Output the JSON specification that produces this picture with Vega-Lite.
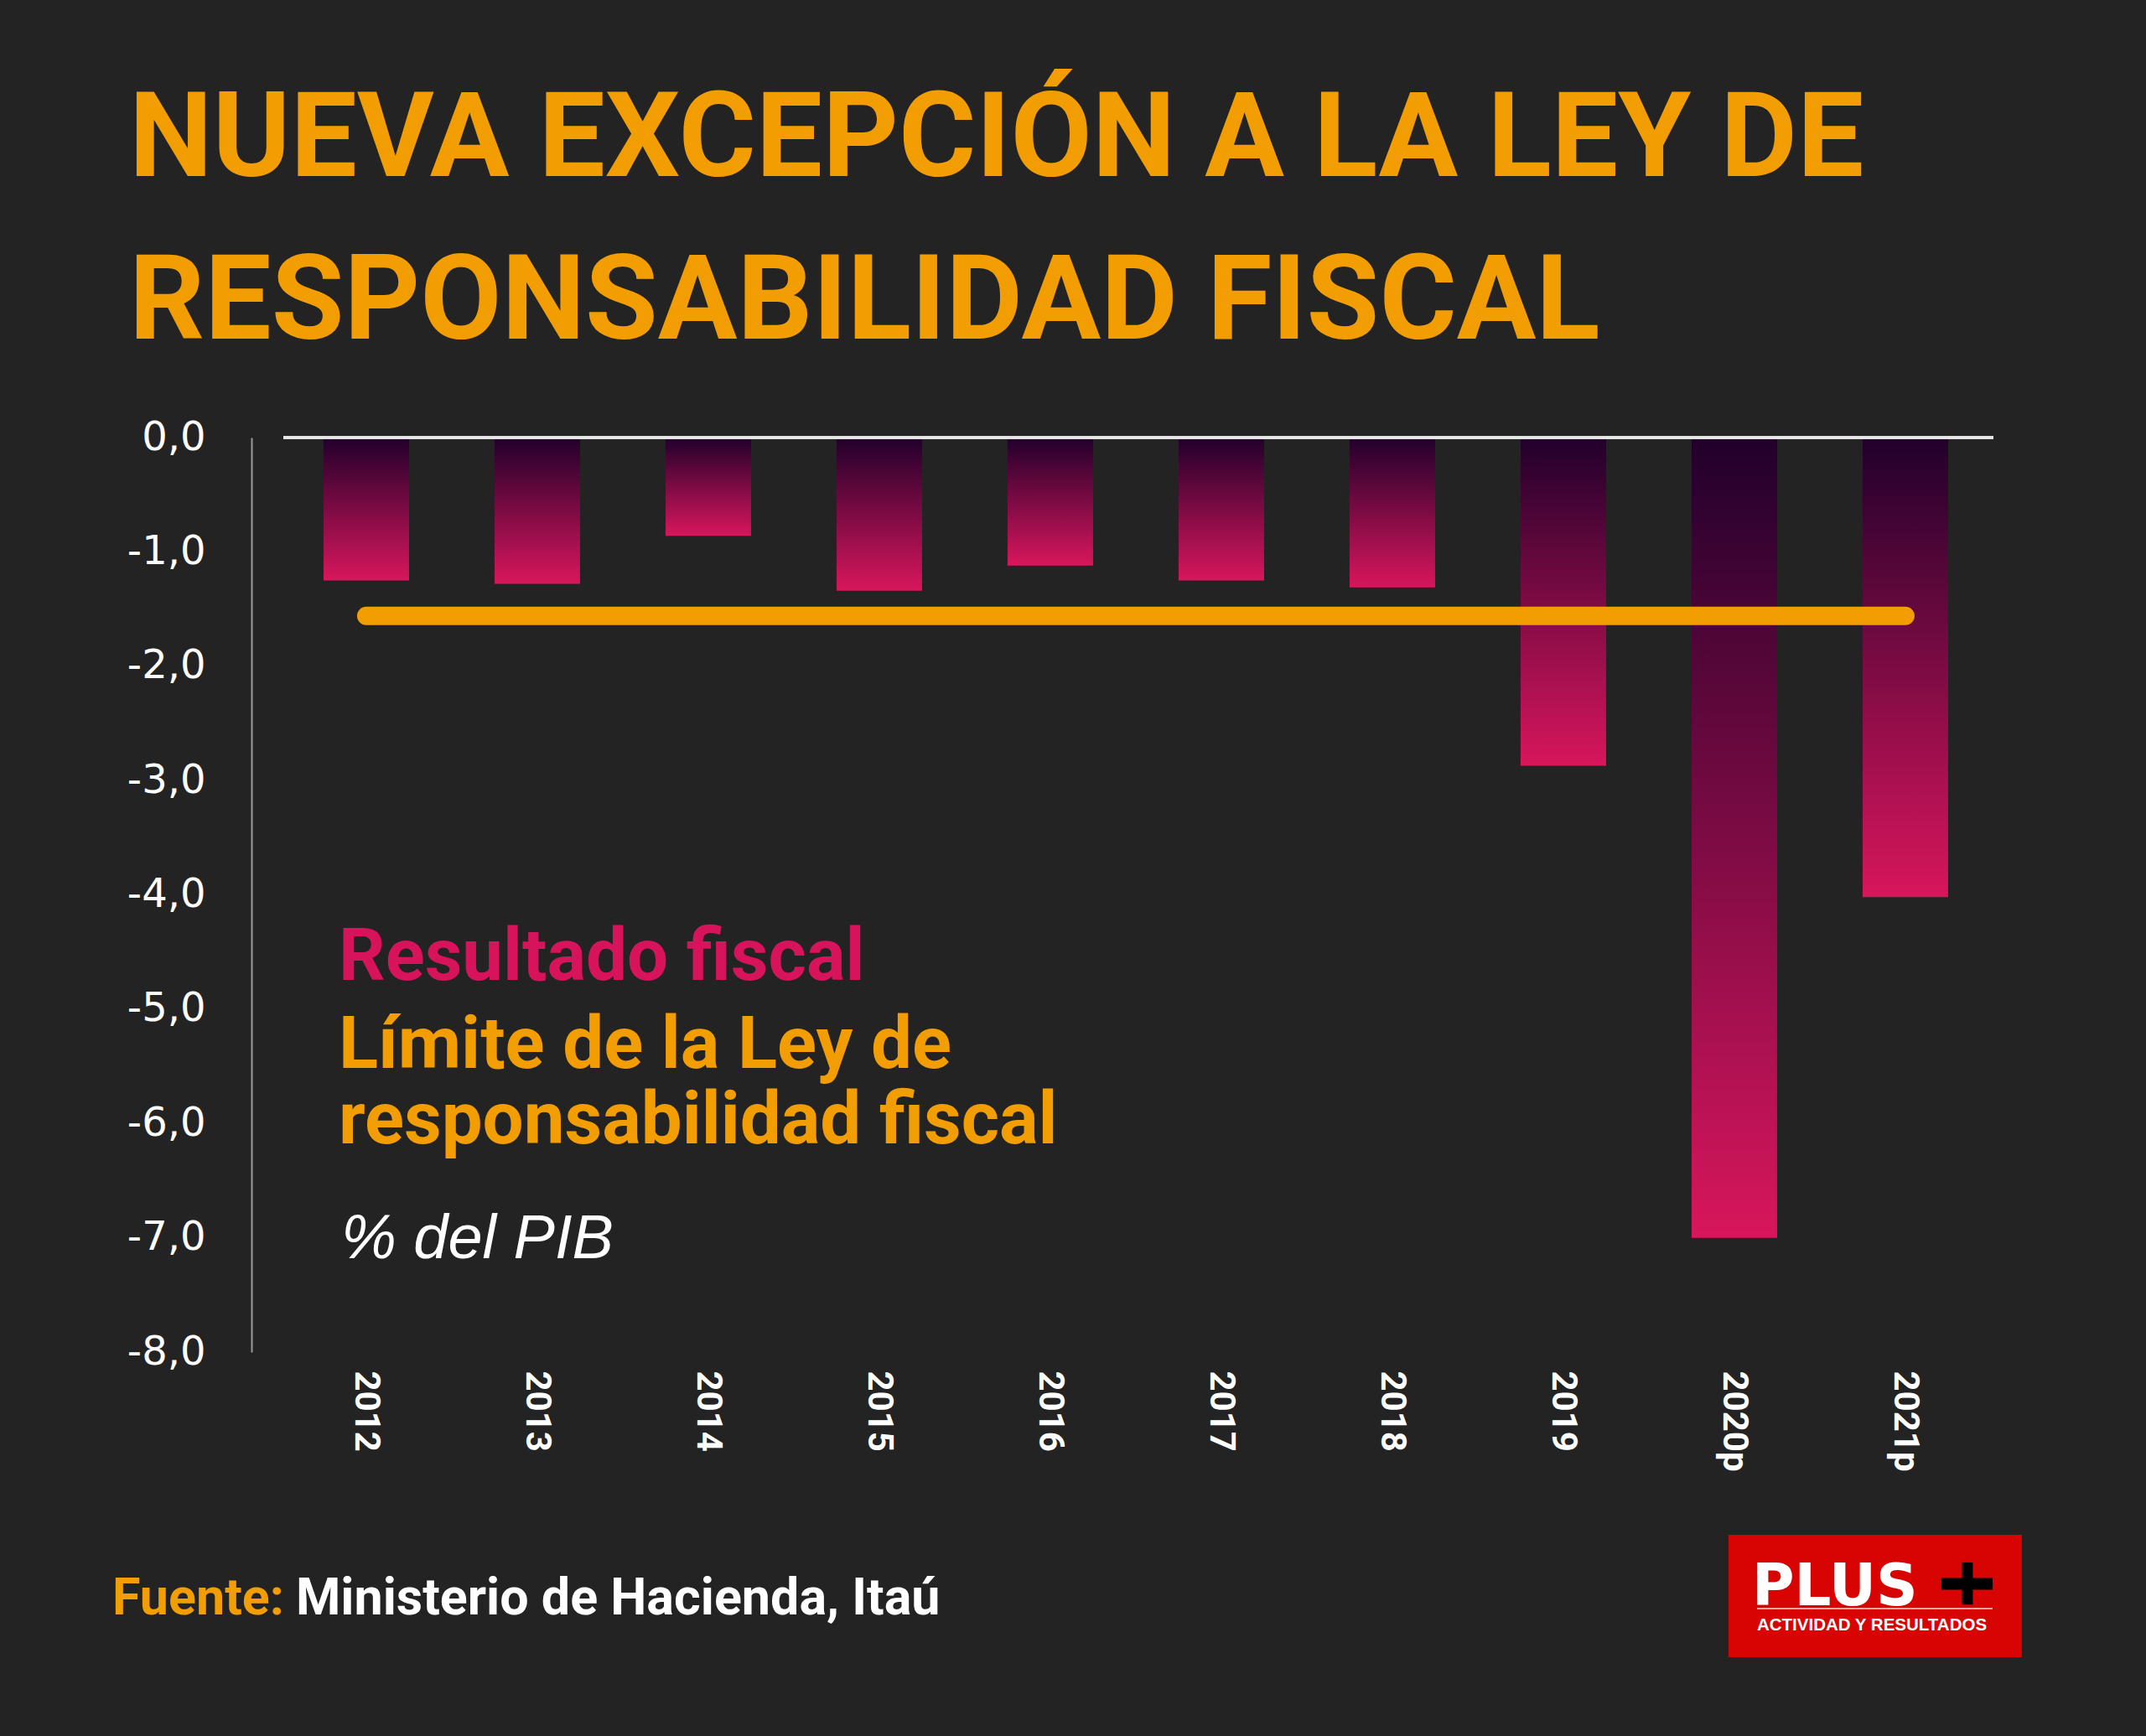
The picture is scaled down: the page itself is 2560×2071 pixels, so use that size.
{
  "$schema": "https://vega.github.io/schema/vega-lite/v6.json",
  "autosize": "none",
  "width": 2040,
  "height": 1091,
  "padding": {"left": 338, "top": 522, "right": 182, "bottom": 458},
  "background": "#232323",
  "title": {
    "text": ["NUEVA EXCEPCIÓN A LA LEY DE", "RESPONSABILIDAD FISCAL"],
    "anchor": "start",
    "frame": "group",
    "orient": "top",
    "font": "Roboto",
    "fontWeight": "bold",
    "fontSize": 141,
    "lineHeight": 194,
    "color": "#f29e02",
    "dx": -184,
    "offset": 64
  },
  "datasets": {
    "fiscal": [
      {"year": "2012", "value": -1.25},
      {"year": "2013", "value": -1.28},
      {"year": "2014", "value": -0.86},
      {"year": "2015", "value": -1.34},
      {"year": "2016", "value": -1.12},
      {"year": "2017", "value": -1.25},
      {"year": "2018", "value": -1.31},
      {"year": "2019", "value": -2.87},
      {"year": "2020p", "value": -7.0},
      {"year": "2021p", "value": -4.02}
    ],
    "limite": [
      {"desde": "2012", "hasta": "2021p", "limite": -1.56}
    ],
    "textos": [
      {"id": "resultado", "texto": "Resultado fiscal"},
      {"id": "limite1", "texto": "Límite de la Ley de"},
      {"id": "limite2", "texto": "responsabilidad fiscal"},
      {"id": "unidad", "texto": "% del PIB"},
      {"id": "fuente1", "texto": "Fuente:"},
      {"id": "fuente2", "texto": "Ministerio de Hacienda, Itaú"},
      {"id": "marca", "texto": "PLUS"},
      {"id": "lema", "texto": "ACTIVIDAD Y RESULTADOS"}
    ]
  },
  "config": {
    "view": {"stroke": null},
    "axis": {"grid": false, "ticks": false}
  },
  "layer": [
    {
      "data": {"name": "fiscal"},
      "mark": {
        "type": "bar",
        "color": {
          "gradient": "linear",
          "x1": 0, "y1": 0, "x2": 0, "y2": 1,
          "stops": [
            {"offset": 0, "color": "#21002b"},
            {"offset": 1, "color": "#d8165c"}
          ]
        }
      },
      "encoding": {
        "x": {
          "field": "year",
          "type": "nominal",
          "sort": null,
          "scale": {"paddingInner": 0.5, "paddingOuter": 0.25, "align": 0.47},
          "axis": {
            "title": null,
            "domain": false,
            "labelAngle": 90,
            "labelFont": "Roboto",
            "labelFontWeight": "bold",
            "labelFontSize": 42,
            "labelColor": "#ffffff",
            "labelPadding": 22
          }
        },
        "y": {
          "field": "value",
          "type": "quantitative",
          "scale": {"domain": [-8, 0], "nice": false, "zero": false},
          "axis": {
            "title": null,
            "values": [0, -1, -2, -3, -4, -5, -6, -7, -8],
            "labelExpr": "replace((datum.value < 0 ? '-' : '') + format(abs(datum.value), '.1f'), '.', ',')",
            "labelFont": "DejaVu Sans",
            "labelFontSize": 48,
            "labelColor": "#ffffff",
            "labelPadding": 55,
            "offset": 38,
            "domainColor": "#9a9a9a",
            "domainWidth": 2
          }
        }
      }
    },
    {
      "data": {"name": "fiscal"},
      "mark": {"type": "rule", "color": "#e8e8e8", "strokeWidth": 2.5},
      "encoding": {"y": {"datum": 0}}
    },
    {
      "data": {"name": "limite"},
      "mark": {"type": "rule", "color": "#f29e02", "strokeWidth": 22, "strokeCap": "round"},
      "encoding": {
        "x": {"field": "desde", "type": "nominal"},
        "x2": {"field": "hasta"},
        "y": {"field": "limite", "type": "quantitative"}
      }
    },
    {
      "data": {"name": "textos"},
      "transform": [{"filter": "datum.id == 'resultado'"}],
      "mark": {"type": "text", "align": "left", "baseline": "alphabetic", "dx": -33, "font": "Roboto", "fontWeight": "bold", "fontSize": 87, "color": "#d7135b"},
      "encoding": {"text": {"field": "texto"}, "x": {"datum": "2012"}, "y": {"datum": -4.744}}
    },
    {
      "data": {"name": "textos"},
      "transform": [{"filter": "datum.id == 'limite1'"}],
      "mark": {"type": "text", "align": "left", "baseline": "alphabetic", "dx": -33, "font": "Roboto", "fontWeight": "bold", "fontSize": 87, "color": "#f29e02"},
      "encoding": {"text": {"field": "texto"}, "x": {"datum": "2012"}, "y": {"datum": -5.514}}
    },
    {
      "data": {"name": "textos"},
      "transform": [{"filter": "datum.id == 'limite2'"}],
      "mark": {"type": "text", "align": "left", "baseline": "alphabetic", "dx": -33, "font": "Roboto", "fontWeight": "bold", "fontSize": 87, "color": "#f29e02"},
      "encoding": {"text": {"field": "texto"}, "x": {"datum": "2012"}, "y": {"datum": -6.174}}
    },
    {
      "data": {"name": "textos"},
      "transform": [{"filter": "datum.id == 'unidad'"}],
      "mark": {"type": "text", "align": "left", "baseline": "alphabetic", "dx": -30, "font": "Liberation Sans", "fontStyle": "italic", "fontSize": 74, "color": "#ffffff"},
      "encoding": {"text": {"field": "texto"}, "x": {"datum": "2012"}, "y": {"datum": -7.179}}
    },
    {
      "data": {"name": "textos"},
      "transform": [{"filter": "datum.id == 'fuente1'"}],
      "mark": {"type": "text", "align": "right", "baseline": "alphabetic", "dx": -98, "font": "Roboto", "fontWeight": "bold", "fontSize": 61, "color": "#f29e02"},
      "encoding": {"text": {"field": "texto"}, "x": {"datum": "2012"}, "y": {"datum": -10.295}}
    },
    {
      "data": {"name": "textos"},
      "transform": [{"filter": "datum.id == 'fuente2'"}],
      "mark": {"type": "text", "align": "left", "baseline": "alphabetic", "dx": -84, "font": "Roboto", "fontWeight": "bold", "fontSize": 61, "color": "#ffffff"},
      "encoding": {"text": {"field": "texto"}, "x": {"datum": "2012"}, "y": {"datum": -10.295}}
    },
    {
      "data": {"name": "textos"},
      "transform": [{"filter": "datum.id == 'marca'"}],
      "mark": {"type": "bar", "color": "#d80404", "width": 350, "xOffset": -36},
      "encoding": {"x": {"datum": "2021p"}, "y": {"datum": -9.598}, "y2": {"datum": -10.669}}
    },
    {
      "data": {"name": "textos"},
      "transform": [{"filter": "datum.id == 'marca'"}],
      "mark": {"type": "text", "align": "left", "baseline": "alphabetic", "dx": -183, "font": "DejaVu Sans", "fontWeight": "bold", "fontSize": 69, "color": "#ffffff"},
      "encoding": {"text": {"field": "texto"}, "x": {"datum": "2021p"}, "y": {"datum": -10.214}}
    },
    {
      "data": {"name": "textos"},
      "transform": [{"filter": "datum.id == 'marca'"}],
      "mark": {"type": "rule", "color": "#000000", "strokeWidth": 14, "xOffset": 43, "x2Offset": 104},
      "encoding": {"x": {"datum": "2021p"}, "x2": {"datum": "2021p"}, "y": {"datum": -10.028}}
    },
    {
      "data": {"name": "textos"},
      "transform": [{"filter": "datum.id == 'marca'"}],
      "mark": {"type": "rule", "color": "#000000", "strokeWidth": 13, "xOffset": 74},
      "encoding": {"x": {"datum": "2021p"}, "y": {"datum": -9.84}, "y2": {"datum": -10.209}}
    },
    {
      "data": {"name": "textos"},
      "transform": [{"filter": "datum.id == 'marca'"}],
      "mark": {"type": "rule", "color": "#e9a3a3", "strokeWidth": 2, "xOffset": -177, "x2Offset": 104},
      "encoding": {"x": {"datum": "2021p"}, "x2": {"datum": "2021p"}, "y": {"datum": -10.244}}
    },
    {
      "data": {"name": "textos"},
      "transform": [{"filter": "datum.id == 'lema'"}],
      "mark": {"type": "text", "align": "left", "baseline": "alphabetic", "dx": -177, "font": "Liberation Sans", "fontWeight": "bold", "fontSize": 20.5, "color": "#ffffff"},
      "encoding": {"text": {"field": "texto"}, "x": {"datum": "2021p"}, "y": {"datum": -10.435}}
    }
  ]
}
